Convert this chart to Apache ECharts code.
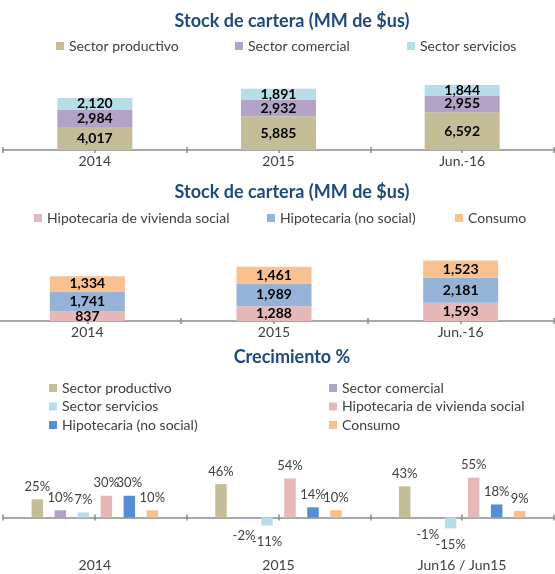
<!DOCTYPE html>
<html>
<head>
<meta charset="utf-8">
<script src="https://cdn.jsdelivr.net/npm/echarts@6/dist/echarts.min.js"></script>
<style>
html,body{margin:0;padding:0;background:#fff;}
#main{width:555px;height:574px;}
</style>
</head>
<body>
<div id="main"></div>
<script>
var FONT="Lato";
var years=["2014","2015","Jun.-16"];
var growthYears=["2014","2015","Jun16 / Jun15"];
var productivo=[4017,5885,6592];
var comercial=[2984,2932,2955];
var servicios=[2120,1891,1844];
var viviendaSocial=[837,1288,1593];
var noSocial=[1741,1989,2181];
var consumo=[1334,1461,1523];
var crecProductivo=[25,46,43];
var crecComercial=[10,-2,-1];
var crecServicios=[7,-11,-15];
var crecVivienda=[30,54,55];
var crecNoSocial=[30,14,18];
var crecConsumo=[10,10,9];
var C_PROD="#C4BD97",C_COM="#B3A2C7",C_SERV="#B7DEE8",C_VIV="#E6B9B8",C_NOSOC="#95B3D7",C_NOSOC2="#558ED5",C_CONS="#FAC090";
function JThousands(v){
	return String(v).replace(/\B(?=(\d{3})+(?!\d))/g,",");
}
function JTitle(text,top){
	return {text:text,left:292,top:top,textAlign:"center",padding:0,
		textStyle:{fontFamily:FONT,fontSize:18,fontWeight:"bold",color:"#1F497D",lineHeight:22}};
}
function JLegend(name,left,top,color){
	var item={name:name};
	if(color){
		item.itemStyle={color:color};
	}
	return {data:[item],left:left,top:top,padding:0,icon:"rect",itemWidth:8,itemHeight:8,selectedMode:false,
		textStyle:{fontFamily:FONT,fontSize:14,color:"#404040",lineHeight:16}};
}
// eje de categorias + dos ejes auxiliares solo para las marcas (afuera y adentro)
function JAxes(grid,cats,margin,offset){
	var axes=[{type:"category",gridIndex:grid,position:"bottom",data:cats,
		axisLine:{lineStyle:{color:"#8c8c8c",width:1.5}},axisTick:{show:false},
		axisLabel:{interval:0,margin:margin,fontFamily:FONT,fontSize:14,color:"#404040"}}];
	var inside=[false,true];
	for(var i=0;i<inside.length;i++){
		axes[axes.length]={type:"value",gridIndex:grid,position:"bottom",offset:offset,min:0,max:6,interval:1,
			axisLine:{show:false,onZero:false},axisLabel:{show:false},splitLine:{show:false},
			axisTick:{show:true,inside:inside[i],length:3,lineStyle:{color:"#8c8c8c",width:1.5}}};
	}
	return axes;
}
function JStockSerie(name,datas,stack,idx,color){
	return {name:name,type:"bar",stack:stack,xAxisIndex:idx*3,yAxisIndex:idx,barWidth:75,data:datas,itemStyle:{color:color},
		label:{show:true,position:"inside",color:"#000",fontFamily:FONT,fontSize:14,fontWeight:"bold",
			formatter:function(p){return JThousands(p.value);}}};
}
function JGrowthSerie(name,datas,color){
	var items=[];
	for(var i=0;i<datas.length;i++){
		var neg=datas[i]<0;
		items[items.length]={value:datas[i],label:{position:neg?"bottom":"top",distance:neg?10:6}};
	}
	return {name:name,type:"bar",xAxisIndex:6,yAxisIndex:2,barWidth:11.5,barGap:"100%",data:items,itemStyle:{color:color},
		label:{show:true,color:"#404040",fontFamily:FONT,fontSize:13,formatter:"{c}%"}};
}
var xAxes=[].concat(JAxes(0,years,4,0),JAxes(1,years,4,0),JAxes(2,growthYears,26,-14.5));
var opt={
	animation:false,
	backgroundColor:"#fff",
	title:[
		JTitle("Stock de cartera (MM de $us)",10),
		JTitle("Stock de cartera (MM de $us)",181),
		JTitle("Crecimiento %",346)
	],
	legend:[
		JLegend("Sector productivo",56,38),
		JLegend("Sector comercial",235,38),
		JLegend("Sector servicios",407,38),
		JLegend("Hipotecaria de vivienda social",34,210),
		JLegend("Hipotecaria (no social)",267,210),
		JLegend("Consumo",455,210),
		JLegend("Sector productivo",49,380),
		JLegend("Sector comercial",329,380),
		JLegend("Sector servicios",49,398.5),
		JLegend("Hipotecaria de vivienda social",329,398.5),
		JLegend("Hipotecaria (no social)",49,417,C_NOSOC2),
		JLegend("Consumo",329,417)
	],
	grid:[
		{left:3,right:1,top:70,height:80,outerBoundsMode:"none"},
		{left:-6,right:1,top:241,height:80,outerBoundsMode:"none"},
		{left:3,right:1,top:474,height:58,outerBoundsMode:"none"}
	],
	xAxis:xAxes,
	yAxis:[
		{type:"value",gridIndex:0,min:0,max:14000,show:false},
		{type:"value",gridIndex:1,min:0,max:7000,show:false},
		{type:"value",gridIndex:2,min:-20,max:60,show:false}
	],
	series:[
		JStockSerie("Sector productivo",productivo,"a",0,C_PROD),
		JStockSerie("Sector comercial",comercial,"a",0,C_COM),
		JStockSerie("Sector servicios",servicios,"a",0,C_SERV),
		JStockSerie("Hipotecaria de vivienda social",viviendaSocial,"b",1,C_VIV),
		JStockSerie("Hipotecaria (no social)",noSocial,"b",1,C_NOSOC),
		JStockSerie("Consumo",consumo,"b",1,C_CONS),
		JGrowthSerie("Sector productivo",crecProductivo,C_PROD),
		JGrowthSerie("Sector comercial",crecComercial,C_COM),
		JGrowthSerie("Sector servicios",crecServicios,C_SERV),
		JGrowthSerie("Hipotecaria de vivienda social",crecVivienda,C_VIV),
		JGrowthSerie("Hipotecaria (no social)",crecNoSocial,C_NOSOC2),
		JGrowthSerie("Consumo",crecConsumo,C_CONS)
	]
};
echarts.init(document.getElementById("main")).setOption(opt);
</script>
</body>
</html>
